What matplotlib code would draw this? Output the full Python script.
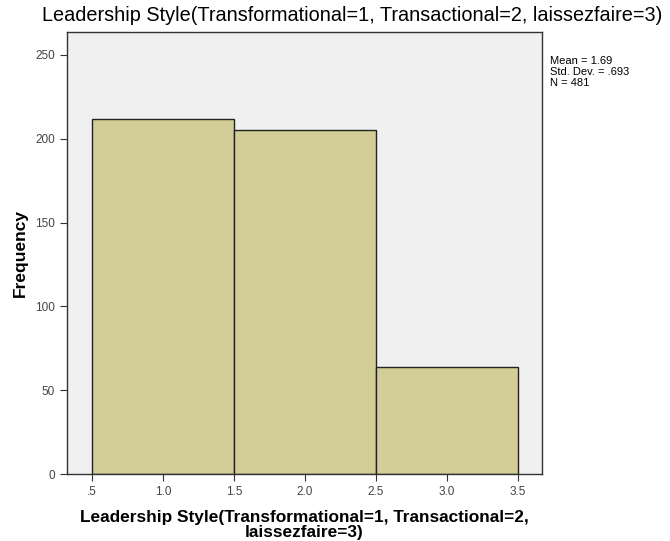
import matplotlib
matplotlib.use("Agg")
import matplotlib.pyplot as plt

plt.rcParams["font.family"] = ["Liberation Sans", "DejaVu Sans"]

# Histogram data (SPSS output)
bin_centers = [1.0, 2.0, 3.0]
counts = [212, 205, 64]
x_ticks = [0.5, 1.0, 1.5, 2.0, 2.5, 3.0, 3.5]
x_tick_labels = [".5", "1.0", "1.5", "2.0", "2.5", "3.0", "3.5"]
y_ticks = [0, 50, 100, 150, 200, 250]
stats_text = "Mean = 1.69\nStd. Dev. = .693\nN = 481"
title = "Leadership Style(Transformational=1, Transactional=2, laissezfaire=3)"
x_label = "Leadership Style(Transformational=1, Transactional=2,\nlaissezfaire=3)"

fig = plt.figure(figsize=(6.7, 5.41), dpi=100)
ax = fig.add_axes([0.1, 0.1238, 0.709, 0.8171])
ax.set_facecolor("#f0f0f0")

ax.bar(bin_centers, counts, width=1.0, color="#d3ce97", edgecolor="#222222", linewidth=1.0)

ax.set_xlim(0.324, 3.669)
ax.set_ylim(0, 263.7)
ax.set_xticks(x_ticks)
ax.set_xticklabels(x_tick_labels)
ax.set_yticks(y_ticks)
ax.tick_params(axis="both", direction="out", length=5, width=0.8, labelsize=8.5,
               colors="#333333", labelcolor="#444444")
for s in ax.spines.values():
    s.set_color("#333333")
    s.set_linewidth(1.0)

fig.text(0.525, 0.972, title, fontsize=14.3, ha="center", va="center")
ax.set_xlabel(x_label, fontsize=12.4, fontweight="bold", labelpad=9, linespacing=1.0)
ax.set_ylabel("Frequency", fontsize=12.5, fontweight="bold", va="center")
ax.yaxis.set_label_coords(-0.099, 0.5)

fig.text(0.821, 0.897, stats_text, fontsize=8, va="top", ha="left", linespacing=1.12)

fig.savefig("out.png", dpi=100)
